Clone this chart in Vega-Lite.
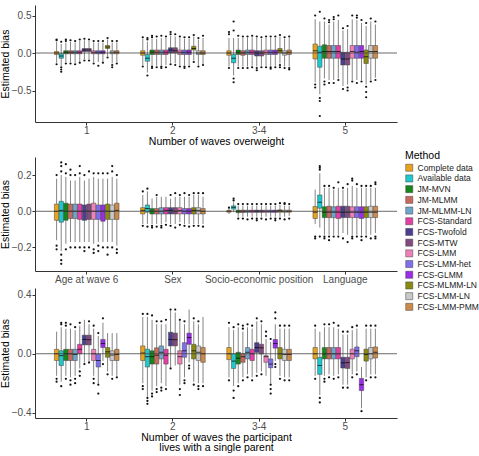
{
"$schema":"https://vega.github.io/schema/vega-lite/v6.json",
"padding":{"left":0,"top":5,"right":0,"bottom":0},
"config":{"font":"Liberation Sans","view":{"stroke":null},
"axis":{"grid":false,"domainColor":"#333","tickColor":"#333","labelColor":"#4d4d4d","labelFontSize":10,"titleFontSize":10.5,"titleFontWeight":"normal","titleColor":"#000","tickSize":3,"labelPadding":1}},
"bounds":"flush",
"spacing":35,
"resolve":{"scale":{"color":"shared"}},
"datasets":{
"p1":[
{"g":"1","m":"Complete data","lo":-0.13,"q1":-0.02,"md":0,"q3":0.02,"hi":0.15,"o":[0.17,0.18,-0.15]},
{"g":"1","m":"Available data","lo":-0.17,"q1":-0.07,"md":-0.04,"q3":-0.01,"hi":0.12,"o":[0.15,-0.19,-0.22,-0.25]},
{"g":"1","m":"JM-MVN","lo":-0.12,"q1":-0.01,"md":0.01,"q3":0.03,"hi":0.14,"o":[0.16,0.18,-0.14]},
{"g":"1","m":"JM-MLMM","lo":-0.12,"q1":-0.01,"md":0.01,"q3":0.03,"hi":0.15,"o":[0.17,-0.14]},
{"g":"1","m":"JM-MLMM-LN","lo":-0.13,"q1":-0.01,"md":0.01,"q3":0.03,"hi":0.14,"o":[0.16,-0.15]},
{"g":"1","m":"FCS-Standard","lo":-0.12,"q1":-0.01,"md":0.01,"q3":0.03,"hi":0.16,"o":[0.18,-0.13]},
{"g":"1","m":"FCS-Twofold","lo":-0.08,"q1":0.02,"md":0.04,"q3":0.06,"hi":0.17,"o":[0.19,-0.1]},
{"g":"1","m":"FCS-MTW","lo":-0.08,"q1":0.02,"md":0.04,"q3":0.06,"hi":0.16,"o":[0.18,-0.1]},
{"g":"1","m":"FCS-LMM","lo":-0.12,"q1":-0.01,"md":0.01,"q3":0.03,"hi":0.14,"o":[0.16,-0.14]},
{"g":"1","m":"FCS-LMM-het","lo":-0.12,"q1":-0.01,"md":0.01,"q3":0.03,"hi":0.14,"o":[0.16,-0.17]},
{"g":"1","m":"FCS-GLMM","lo":-0.12,"q1":-0.01,"md":0.01,"q3":0.03,"hi":0.14,"o":[0.16,-0.13]},
{"g":"1","m":"FCS-MLMM-LN","lo":-0.04,"q1":0.06,"md":0.08,"q3":0.1,"hi":0.18,"o":[0.2,-0.06]},
{"g":"1","m":"FCS-LMM-LN","lo":-0.14,"q1":-0.01,"md":0.01,"q3":0.03,"hi":0.14,"o":[0.16,-0.16,-0.19]},
{"g":"1","m":"FCS-LMM-PMM","lo":-0.12,"q1":-0.01,"md":0.01,"q3":0.03,"hi":0.14,"o":[0.16,-0.14]},
{"g":"2","m":"Complete data","lo":-0.16,"q1":-0.03,"md":0,"q3":0.03,"hi":0.19,"o":[0.21,-0.18]},
{"g":"2","m":"Available data","lo":-0.26,"q1":-0.11,"md":-0.07,"q3":-0.02,"hi":0.15,"o":[0.18,0.2,-0.3]},
{"g":"2","m":"JM-MVN","lo":-0.16,"q1":-0.02,"md":0.01,"q3":0.04,"hi":0.19,"o":[0.21,0.23,-0.18,-0.2]},
{"g":"2","m":"JM-MLMM","lo":-0.17,"q1":-0.02,"md":0.01,"q3":0.04,"hi":0.19,"o":[0.22,-0.19]},
{"g":"2","m":"JM-MLMM-LN","lo":-0.16,"q1":-0.02,"md":0.01,"q3":0.04,"hi":0.2,"o":[0.23,-0.18,-0.2]},
{"g":"2","m":"FCS-Standard","lo":-0.16,"q1":-0.02,"md":0.01,"q3":0.04,"hi":0.2,"o":[0.22,-0.19]},
{"g":"2","m":"FCS-Twofold","lo":-0.13,"q1":0,"md":0.04,"q3":0.07,"hi":0.23,"o":[0.25,0.28,-0.15]},
{"g":"2","m":"FCS-MTW","lo":-0.14,"q1":0,"md":0.03,"q3":0.07,"hi":0.22,"o":[0.25,-0.16]},
{"g":"2","m":"FCS-LMM","lo":-0.16,"q1":-0.02,"md":0.01,"q3":0.04,"hi":0.2,"o":[0.22,-0.18]},
{"g":"2","m":"FCS-LMM-het","lo":-0.16,"q1":-0.02,"md":0.01,"q3":0.04,"hi":0.19,"o":[0.21,-0.18,-0.2]},
{"g":"2","m":"FCS-GLMM","lo":-0.16,"q1":-0.02,"md":0.01,"q3":0.04,"hi":0.19,"o":[0.21,-0.18]},
{"g":"2","m":"FCS-MLMM-LN","lo":-0.1,"q1":0.04,"md":0.06,"q3":0.09,"hi":0.22,"o":[0.24,-0.12]},
{"g":"2","m":"FCS-LMM-LN","lo":-0.16,"q1":-0.02,"md":0,"q3":0.03,"hi":0.18,"o":[0.2,-0.18]},
{"g":"2","m":"FCS-LMM-PMM","lo":-0.15,"q1":-0.02,"md":0,"q3":0.03,"hi":0.2,"o":[0.23,-0.16]},
{"g":"3-4","m":"Complete data","lo":-0.18,"q1":-0.03,"md":0,"q3":0.03,"hi":0.2,"o":[0.25,0.28,-0.2]},
{"g":"3-4","m":"Available data","lo":-0.3,"q1":-0.13,"md":-0.07,"q3":-0.02,"hi":0.2,"o":[0.3,0.42,-0.34,-0.39]},
{"g":"3-4","m":"JM-MVN","lo":-0.18,"q1":-0.02,"md":0.01,"q3":0.04,"hi":0.2,"o":[0.23,-0.2]},
{"g":"3-4","m":"JM-MLMM","lo":-0.18,"q1":-0.03,"md":0,"q3":0.03,"hi":0.2,"o":[0.22,-0.2]},
{"g":"3-4","m":"JM-MLMM-LN","lo":-0.18,"q1":-0.02,"md":0.01,"q3":0.04,"hi":0.2,"o":[0.22,-0.2]},
{"g":"3-4","m":"FCS-Standard","lo":-0.17,"q1":-0.02,"md":0.01,"q3":0.04,"hi":0.21,"o":[0.23,-0.19]},
{"g":"3-4","m":"FCS-Twofold","lo":-0.18,"q1":-0.04,"md":0,"q3":0.03,"hi":0.2,"o":[0.22,-0.2,-0.23]},
{"g":"3-4","m":"FCS-MTW","lo":-0.17,"q1":-0.04,"md":0,"q3":0.03,"hi":0.19,"o":[0.21,-0.19]},
{"g":"3-4","m":"FCS-LMM","lo":-0.17,"q1":-0.02,"md":0.01,"q3":0.04,"hi":0.2,"o":[0.22,-0.19]},
{"g":"3-4","m":"FCS-LMM-het","lo":-0.17,"q1":-0.02,"md":0.01,"q3":0.04,"hi":0.2,"o":[0.22,-0.19,-0.21]},
{"g":"3-4","m":"FCS-GLMM","lo":-0.17,"q1":-0.02,"md":0.01,"q3":0.04,"hi":0.2,"o":[0.22,-0.19]},
{"g":"3-4","m":"FCS-MLMM-LN","lo":-0.14,"q1":0,"md":0.03,"q3":0.06,"hi":0.22,"o":[0.24,-0.16,-0.19]},
{"g":"3-4","m":"FCS-LMM-LN","lo":-0.18,"q1":-0.03,"md":0,"q3":0.03,"hi":0.19,"o":[0.21,-0.2]},
{"g":"3-4","m":"FCS-LMM-PMM","lo":-0.18,"q1":-0.02,"md":0.01,"q3":0.04,"hi":0.2,"o":[0.22,-0.2,-0.22]},
{"g":"5","m":"Complete data","lo":-0.39,"q1":-0.08,"md":0.03,"q3":0.12,"hi":0.45,"o":[0.5,-0.42,-0.46]},
{"g":"5","m":"Available data","lo":-0.55,"q1":-0.19,"md":0.01,"q3":0.09,"hi":0.42,"o":[0.55,-0.6,-0.64,-0.84]},
{"g":"5","m":"JM-MVN","lo":-0.34,"q1":-0.07,"md":0.02,"q3":0.11,"hi":0.42,"o":[0.46,-0.38,-0.42]},
{"g":"5","m":"JM-MLMM","lo":-0.36,"q1":-0.07,"md":0.02,"q3":0.1,"hi":0.38,"o":[0.41,0.44,-0.4]},
{"g":"5","m":"JM-MLMM-LN","lo":-0.36,"q1":-0.07,"md":0.02,"q3":0.1,"hi":0.42,"o":[0.45,0.48,-0.4]},
{"g":"5","m":"FCS-Standard","lo":-0.34,"q1":-0.07,"md":0.02,"q3":0.1,"hi":0.44,"o":[0.5,-0.36]},
{"g":"5","m":"FCS-Twofold","lo":-0.44,"q1":-0.16,"md":-0.08,"q3":0.01,"hi":0.3,"o":[0.33,-0.48]},
{"g":"5","m":"FCS-MTW","lo":-0.42,"q1":-0.16,"md":-0.08,"q3":0.01,"hi":0.32,"o":[0.36,-0.46,-0.5]},
{"g":"5","m":"FCS-LMM","lo":-0.36,"q1":-0.07,"md":0.02,"q3":0.1,"hi":0.45,"o":[0.5,-0.38]},
{"g":"5","m":"FCS-LMM-het","lo":-0.36,"q1":-0.07,"md":0.01,"q3":0.1,"hi":0.44,"o":[0.47,0.5,-0.4]},
{"g":"5","m":"FCS-GLMM","lo":-0.36,"q1":-0.07,"md":0.02,"q3":0.1,"hi":0.4,"o":[0.44,-0.38]},
{"g":"5","m":"FCS-MLMM-LN","lo":-0.42,"q1":-0.14,"md":-0.05,"q3":0.04,"hi":0.36,"o":[0.4,-0.45,-0.52,-0.59]},
{"g":"5","m":"FCS-LMM-LN","lo":-0.36,"q1":-0.07,"md":0.02,"q3":0.1,"hi":0.42,"o":[0.46,-0.38]},
{"g":"5","m":"FCS-LMM-PMM","lo":-0.33,"q1":-0.07,"md":0.02,"q3":0.1,"hi":0.38,"o":[0.42,-0.36]}
],
"p2":[
{"g":"Age at wave 6","m":"Complete data","lo":-0.16,"q1":-0.05,"md":0,"q3":0.04,"hi":0.18,"o":[0.2,-0.19,-0.21]},
{"g":"Age at wave 6","m":"Available data","lo":-0.22,"q1":-0.06,"md":0.005,"q3":0.055,"hi":0.2,"o":[0.22,0.25,0.27,-0.24,-0.27,-0.29]},
{"g":"Age at wave 6","m":"JM-MVN","lo":-0.18,"q1":-0.05,"md":0,"q3":0.045,"hi":0.19,"o":[0.21,0.26,-0.21]},
{"g":"Age at wave 6","m":"JM-MLMM","lo":-0.17,"q1":-0.04,"md":0,"q3":0.04,"hi":0.17,"o":[0.2,0.23,-0.2]},
{"g":"Age at wave 6","m":"JM-MLMM-LN","lo":-0.17,"q1":-0.04,"md":0,"q3":0.04,"hi":0.17,"o":[0.2,-0.2]},
{"g":"Age at wave 6","m":"FCS-Standard","lo":-0.17,"q1":-0.045,"md":0,"q3":0.04,"hi":0.19,"o":[0.21,0.25,-0.2]},
{"g":"Age at wave 6","m":"FCS-Twofold","lo":-0.17,"q1":-0.05,"md":0,"q3":0.035,"hi":0.17,"o":[0.2,-0.2,-0.22]},
{"g":"Age at wave 6","m":"FCS-MTW","lo":-0.17,"q1":-0.045,"md":0,"q3":0.04,"hi":0.18,"o":[0.22,-0.2]},
{"g":"Age at wave 6","m":"FCS-LMM","lo":-0.18,"q1":-0.045,"md":0,"q3":0.045,"hi":0.19,"o":[0.21,-0.21,-0.23]},
{"g":"Age at wave 6","m":"FCS-LMM-het","lo":-0.17,"q1":-0.045,"md":0,"q3":0.035,"hi":0.18,"o":[0.21,-0.19,-0.22]},
{"g":"Age at wave 6","m":"FCS-GLMM","lo":-0.17,"q1":-0.055,"md":0,"q3":0.035,"hi":0.18,"o":[0.21,-0.2]},
{"g":"Age at wave 6","m":"FCS-MLMM-LN","lo":-0.17,"q1":-0.045,"md":0,"q3":0.04,"hi":0.18,"o":[0.21,-0.2,-0.24]},
{"g":"Age at wave 6","m":"FCS-LMM-LN","lo":-0.17,"q1":-0.045,"md":0,"q3":0.035,"hi":0.19,"o":[0.22,0.25,-0.2]},
{"g":"Age at wave 6","m":"FCS-LMM-PMM","lo":-0.19,"q1":-0.045,"md":0.005,"q3":0.045,"hi":0.18,"o":[0.2,-0.21,-0.23]},
{"g":"Sex","m":"Complete data","lo":-0.07,"q1":-0.015,"md":0.005,"q3":0.02,"hi":0.09,"o":[0.11,-0.08]},
{"g":"Sex","m":"Available data","lo":-0.07,"q1":-0.005,"md":0.015,"q3":0.035,"hi":0.11,"o":[0.125,-0.085]},
{"g":"Sex","m":"JM-MVN","lo":-0.07,"q1":-0.015,"md":0,"q3":0.015,"hi":0.07,"o":[-0.08,-0.09]},
{"g":"Sex","m":"JM-MLMM","lo":-0.07,"q1":-0.015,"md":0,"q3":0.015,"hi":0.08,"o":[0.09,-0.085]},
{"g":"Sex","m":"JM-MLMM-LN","lo":-0.07,"q1":-0.015,"md":0,"q3":0.02,"hi":0.08,"o":[-0.08,-0.09]},
{"g":"Sex","m":"FCS-Standard","lo":-0.06,"q1":-0.015,"md":0.005,"q3":0.02,"hi":0.08,"o":[-0.075]},
{"g":"Sex","m":"FCS-Twofold","lo":-0.07,"q1":-0.015,"md":0.005,"q3":0.02,"hi":0.07,"o":[0.09,-0.08]},
{"g":"Sex","m":"FCS-MTW","lo":-0.07,"q1":-0.015,"md":0,"q3":0.02,"hi":0.08,"o":[0.1,-0.09]},
{"g":"Sex","m":"FCS-LMM","lo":-0.06,"q1":-0.015,"md":0.005,"q3":0.02,"hi":0.08,"o":[0.09,-0.075]},
{"g":"Sex","m":"FCS-LMM-het","lo":-0.07,"q1":-0.015,"md":0,"q3":0.015,"hi":0.08,"o":[0.1,-0.08]},
{"g":"Sex","m":"FCS-GLMM","lo":-0.07,"q1":-0.015,"md":0,"q3":0.015,"hi":0.08,"o":[0.09,-0.085]},
{"g":"Sex","m":"FCS-MLMM-LN","lo":-0.07,"q1":-0.015,"md":0.005,"q3":0.02,"hi":0.09,"o":[0.1,-0.08]},
{"g":"Sex","m":"FCS-LMM-LN","lo":-0.07,"q1":-0.015,"md":0.005,"q3":0.02,"hi":0.09,"o":[0.1,-0.08]},
{"g":"Sex","m":"FCS-LMM-PMM","lo":-0.07,"q1":-0.015,"md":0,"q3":0.015,"hi":0.08,"o":[0.1,-0.085]},
{"g":"Socio-economic position","m":"Complete data","lo":-0.015,"q1":-0.005,"md":0,"q3":0.005,"hi":0.015,"o":[0.02]},
{"g":"Socio-economic position","m":"Available data","lo":-0.005,"q1":0.012,"md":0.022,"q3":0.03,"hi":0.05,"o":[0.06,0.07]},
{"g":"Socio-economic position","m":"JM-MVN","lo":-0.03,"q1":-0.008,"md":0,"q3":0.006,"hi":0.03,"o":[0.04,-0.04]},
{"g":"Socio-economic position","m":"JM-MLMM","lo":-0.03,"q1":-0.007,"md":0,"q3":0.006,"hi":0.03,"o":[0.04,-0.04]},
{"g":"Socio-economic position","m":"JM-MLMM-LN","lo":-0.03,"q1":-0.006,"md":0,"q3":0.006,"hi":0.03,"o":[0.04,-0.045]},
{"g":"Socio-economic position","m":"FCS-Standard","lo":-0.03,"q1":-0.006,"md":0,"q3":0.006,"hi":0.03,"o":[0.04,-0.04]},
{"g":"Socio-economic position","m":"FCS-Twofold","lo":-0.03,"q1":-0.006,"md":0,"q3":0.006,"hi":0.03,"o":[0.04,-0.04,-0.05]},
{"g":"Socio-economic position","m":"FCS-MTW","lo":-0.03,"q1":-0.006,"md":0,"q3":0.006,"hi":0.03,"o":[0.04,-0.04]},
{"g":"Socio-economic position","m":"FCS-LMM","lo":-0.03,"q1":-0.006,"md":0,"q3":0.006,"hi":0.03,"o":[0.04,-0.045]},
{"g":"Socio-economic position","m":"FCS-LMM-het","lo":-0.03,"q1":-0.006,"md":0,"q3":0.006,"hi":0.03,"o":[0.04,-0.04]},
{"g":"Socio-economic position","m":"FCS-GLMM","lo":-0.03,"q1":-0.006,"md":0,"q3":0.006,"hi":0.03,"o":[0.04,-0.04,-0.05]},
{"g":"Socio-economic position","m":"FCS-MLMM-LN","lo":-0.03,"q1":-0.005,"md":0.002,"q3":0.008,"hi":0.035,"o":[0.045,-0.04]},
{"g":"Socio-economic position","m":"FCS-LMM-LN","lo":-0.03,"q1":-0.006,"md":0,"q3":0.006,"hi":0.03,"o":[0.04,0.045,-0.045]},
{"g":"Socio-economic position","m":"FCS-LMM-PMM","lo":-0.025,"q1":-0.005,"md":0,"q3":0.006,"hi":0.03,"o":[0.04,-0.04]},
{"g":"Language","m":"Complete data","lo":-0.07,"q1":-0.04,"md":-0.005,"q3":0.026,"hi":0.12,"o":[-0.14,-0.15]},
{"g":"Language","m":"Available data","lo":-0.09,"q1":0.017,"md":0.05,"q3":0.09,"hi":0.21,"o":[0.23,0.24,0.25,-0.14]},
{"g":"Language","m":"JM-MVN","lo":-0.13,"q1":-0.035,"md":-0.005,"q3":0.025,"hi":0.13,"o":[0.14,-0.14,-0.15]},
{"g":"Language","m":"JM-MLMM","lo":-0.13,"q1":-0.035,"md":-0.005,"q3":0.028,"hi":0.13,"o":[0.14,-0.14,-0.16]},
{"g":"Language","m":"JM-MLMM-LN","lo":-0.13,"q1":-0.035,"md":-0.005,"q3":0.025,"hi":0.12,"o":[0.13,-0.14]},
{"g":"Language","m":"FCS-Standard","lo":-0.13,"q1":-0.04,"md":-0.005,"q3":0.028,"hi":0.13,"o":[0.16,-0.14]},
{"g":"Language","m":"FCS-Twofold","lo":-0.12,"q1":-0.035,"md":-0.005,"q3":0.028,"hi":0.12,"o":[0.13,-0.15]},
{"g":"Language","m":"FCS-MTW","lo":-0.13,"q1":-0.035,"md":-0.005,"q3":0.028,"hi":0.13,"o":[0.15,-0.17]},
{"g":"Language","m":"FCS-LMM","lo":-0.13,"q1":-0.035,"md":-0.005,"q3":0.025,"hi":0.14,"o":[0.17,0.18,-0.14,-0.15]},
{"g":"Language","m":"FCS-LMM-het","lo":-0.13,"q1":-0.035,"md":-0.005,"q3":0.025,"hi":0.13,"o":[0.15,-0.14]},
{"g":"Language","m":"FCS-GLMM","lo":-0.13,"q1":-0.04,"md":-0.005,"q3":0.025,"hi":0.13,"o":[0.14,-0.14,-0.16]},
{"g":"Language","m":"FCS-MLMM-LN","lo":-0.13,"q1":-0.035,"md":-0.005,"q3":0.025,"hi":0.13,"o":[0.14,-0.14]},
{"g":"Language","m":"FCS-LMM-LN","lo":-0.13,"q1":-0.035,"md":-0.005,"q3":0.028,"hi":0.13,"o":[0.14,-0.15]},
{"g":"Language","m":"FCS-LMM-PMM","lo":-0.12,"q1":-0.035,"md":-0.005,"q3":0.028,"hi":0.13,"o":[0.15,0.16,-0.14,-0.15]}
],
"p3":[
{"g":"1","m":"Complete data","lo":-0.15,"q1":-0.046,"md":0,"q3":0.03,"hi":0.15,"o":[-0.17,-0.19]},
{"g":"1","m":"Available data","lo":-0.19,"q1":-0.08,"md":-0.013,"q3":0.02,"hi":0.18,"o":[0.2,0.21,-0.22]},
{"g":"1","m":"JM-MVN","lo":-0.15,"q1":-0.046,"md":0,"q3":0.03,"hi":0.17,"o":[0.19,0.21,-0.17]},
{"g":"1","m":"JM-MLMM","lo":-0.16,"q1":-0.046,"md":0,"q3":0.03,"hi":0.17,"o":[0.2,-0.18,-0.21]},
{"g":"1","m":"JM-MLMM-LN","lo":-0.15,"q1":-0.046,"md":-0.005,"q3":0.03,"hi":0.16,"o":[0.18,-0.17,-0.2]},
{"g":"1","m":"FCS-Standard","lo":-0.1,"q1":0,"md":0.03,"q3":0.064,"hi":0.19,"o":[0.21,-0.12,-0.15]},
{"g":"1","m":"FCS-Twofold","lo":-0.06,"q1":0.06,"md":0.097,"q3":0.126,"hi":0.23,"o":[-0.07]},
{"g":"1","m":"FCS-MTW","lo":-0.06,"q1":0.06,"md":0.095,"q3":0.126,"hi":0.2,"o":[0.22,-0.06]},
{"g":"1","m":"FCS-LMM","lo":-0.15,"q1":-0.046,"md":0,"q3":0.03,"hi":0.17,"o":[0.19,-0.17,-0.2]},
{"g":"1","m":"FCS-LMM-het","lo":-0.2,"q1":-0.09,"md":-0.046,"q3":-0.002,"hi":0.12,"o":[0.14,-0.21,-0.27]},
{"g":"1","m":"FCS-GLMM","lo":-0.05,"q1":0.042,"md":0.069,"q3":0.097,"hi":0.21,"o":[0.24,-0.07]},
{"g":"1","m":"FCS-MLMM-LN","lo":-0.12,"q1":-0.024,"md":0.013,"q3":0.042,"hi":0.14,"o":[-0.14]},
{"g":"1","m":"FCS-LMM-LN","lo":-0.15,"q1":-0.046,"md":-0.009,"q3":0.02,"hi":0.14,"o":[-0.17]},
{"g":"1","m":"FCS-LMM-PMM","lo":-0.15,"q1":-0.046,"md":-0.005,"q3":0.03,"hi":0.14,"o":[-0.16]},
{"g":"2","m":"Complete data","lo":-0.2,"q1":-0.046,"md":0.005,"q3":0.053,"hi":0.25,"o":[0.27,-0.22,-0.24]},
{"g":"2","m":"Available data","lo":-0.29,"q1":-0.09,"md":-0.02,"q3":0.031,"hi":0.25,"o":[0.27,-0.3,-0.32,-0.34]},
{"g":"2","m":"JM-MVN","lo":-0.25,"q1":-0.07,"md":-0.02,"q3":0.02,"hi":0.23,"o":[0.26,-0.27,-0.29]},
{"g":"2","m":"JM-MLMM","lo":-0.22,"q1":-0.07,"md":-0.01,"q3":0.04,"hi":0.2,"o":[0.22,-0.24,-0.26]},
{"g":"2","m":"JM-MLMM-LN","lo":-0.2,"q1":-0.035,"md":0.01,"q3":0.053,"hi":0.2,"o":[0.22,-0.23,-0.25]},
{"g":"2","m":"FCS-Standard","lo":-0.22,"q1":-0.07,"md":-0.01,"q3":0.03,"hi":0.2,"o":[0.23,-0.24]},
{"g":"2","m":"FCS-Twofold","lo":-0.09,"q1":0.053,"md":0.097,"q3":0.146,"hi":0.29,"o":[0.3,-0.1]},
{"g":"2","m":"FCS-MTW","lo":-0.08,"q1":0.053,"md":0.095,"q3":0.14,"hi":0.28,"o":[0.3]},
{"g":"2","m":"FCS-LMM","lo":-0.21,"q1":-0.07,"md":-0.02,"q3":0.02,"hi":0.22,"o":[0.23,-0.24,-0.28]},
{"g":"2","m":"FCS-LMM-het","lo":-0.16,"q1":-0.024,"md":0.02,"q3":0.075,"hi":0.2,"o":[0.22,-0.18,-0.2]},
{"g":"2","m":"FCS-GLMM","lo":-0.06,"q1":0.064,"md":0.11,"q3":0.14,"hi":0.3,"o":[-0.08,-0.1]},
{"g":"2","m":"FCS-MLMM-LN","lo":-0.19,"q1":-0.035,"md":0.02,"q3":0.064,"hi":0.22,"o":[0.24,-0.21]},
{"g":"2","m":"FCS-LMM-LN","lo":-0.2,"q1":-0.046,"md":0.01,"q3":0.053,"hi":0.2,"o":[0.22,-0.22,-0.24]},
{"g":"2","m":"FCS-LMM-PMM","lo":-0.2,"q1":-0.058,"md":0,"q3":0.042,"hi":0.25,"o":[-0.22]},
{"g":"3-4","m":"Complete data","lo":-0.16,"q1":-0.04,"md":0,"q3":0.042,"hi":0.18,"o":[0.21,-0.18]},
{"g":"3-4","m":"Available data","lo":-0.22,"q1":-0.1,"md":-0.05,"q3":0,"hi":0.16,"o":[0.18,-0.25,-0.3]},
{"g":"3-4","m":"JM-MVN","lo":-0.2,"q1":-0.07,"md":-0.03,"q3":0.01,"hi":0.18,"o":[0.2,-0.22]},
{"g":"3-4","m":"JM-MLMM","lo":-0.16,"q1":-0.058,"md":-0.02,"q3":0,"hi":0.15,"o":[0.17,0.19,-0.18]},
{"g":"3-4","m":"JM-MLMM-LN","lo":-0.14,"q1":-0.035,"md":0.01,"q3":0.042,"hi":0.18,"o":[0.2,-0.16]},
{"g":"3-4","m":"FCS-Standard","lo":-0.16,"q1":-0.046,"md":0,"q3":0.03,"hi":0.17,"o":[0.19,-0.18]},
{"g":"3-4","m":"FCS-Twofold","lo":-0.13,"q1":0.009,"md":0.042,"q3":0.075,"hi":0.22,"o":[0.24,-0.15]},
{"g":"3-4","m":"FCS-MTW","lo":-0.12,"q1":-0.002,"md":0.04,"q3":0.064,"hi":0.2,"o":[0.22,-0.14]},
{"g":"3-4","m":"FCS-LMM","lo":-0.15,"q1":-0.058,"md":-0.02,"q3":-0.013,"hi":0.1,"o":[0.12,0.15]},
{"g":"3-4","m":"FCS-LMM-het","lo":-0.2,"q1":-0.095,"md":-0.07,"q3":-0.035,"hi":0.08,"o":[0.1,-0.21,-0.24,-0.27]},
{"g":"3-4","m":"FCS-GLMM","lo":-0.05,"q1":0.038,"md":0.069,"q3":0.097,"hi":0.2,"o":[0.24,0.28,-0.07,-0.09]},
{"g":"3-4","m":"FCS-MLMM-LN","lo":-0.15,"q1":-0.035,"md":0,"q3":0.042,"hi":0.17,"o":[0.19,-0.17]},
{"g":"3-4","m":"FCS-LMM-LN","lo":-0.16,"q1":-0.046,"md":-0.005,"q3":0.03,"hi":0.17,"o":[0.19,-0.18]},
{"g":"3-4","m":"FCS-LMM-PMM","lo":-0.16,"q1":-0.046,"md":-0.005,"q3":0.03,"hi":0.17,"o":[0.19,-0.18]},
{"g":"5","m":"Complete data","lo":-0.15,"q1":-0.035,"md":0,"q3":0.042,"hi":0.17,"o":[0.19,-0.17]},
{"g":"5","m":"Available data","lo":-0.28,"q1":-0.14,"md":-0.08,"q3":-0.024,"hi":0.15,"o":[-0.3,-0.33]},
{"g":"5","m":"JM-MVN","lo":-0.15,"q1":-0.035,"md":0,"q3":0.042,"hi":0.18,"o":[0.2,-0.17,-0.19]},
{"g":"5","m":"JM-MLMM","lo":-0.14,"q1":-0.035,"md":0,"q3":0.042,"hi":0.18,"o":[0.2,-0.16]},
{"g":"5","m":"JM-MLMM-LN","lo":-0.15,"q1":-0.035,"md":0,"q3":0.042,"hi":0.18,"o":[0.21,-0.17]},
{"g":"5","m":"FCS-Standard","lo":-0.14,"q1":-0.035,"md":0,"q3":0.042,"hi":0.17,"o":[0.19,-0.16]},
{"g":"5","m":"FCS-Twofold","lo":-0.21,"q1":-0.097,"md":-0.062,"q3":-0.024,"hi":0.13,"o":[0.15,-0.23]},
{"g":"5","m":"FCS-MTW","lo":-0.21,"q1":-0.1,"md":-0.06,"q3":-0.024,"hi":0.13,"o":[0.15,-0.23]},
{"g":"5","m":"FCS-LMM","lo":-0.14,"q1":-0.035,"md":0,"q3":0.031,"hi":0.16,"o":[0.18,-0.16]},
{"g":"5","m":"FCS-LMM-het","lo":-0.12,"q1":-0.02,"md":0.02,"q3":0.046,"hi":0.17,"o":[0.19,-0.14]},
{"g":"5","m":"FCS-GLMM","lo":-0.37,"q1":-0.25,"md":-0.21,"q3":-0.168,"hi":-0.09,"o":[-0.39]},
{"g":"5","m":"FCS-MLMM-LN","lo":-0.16,"q1":-0.05,"md":-0.005,"q3":0.031,"hi":0.17,"o":[0.19,-0.18]},
{"g":"5","m":"FCS-LMM-LN","lo":-0.14,"q1":-0.035,"md":0,"q3":0.042,"hi":0.17,"o":[0.19,-0.16]},
{"g":"5","m":"FCS-LMM-PMM","lo":-0.14,"q1":-0.029,"md":0.01,"q3":0.046,"hi":0.17,"o":[0.19,-0.16]}
]
},
"vconcat":[
{"data":{"name":"p1"},"width":362,"height":117,
"layer":[
{"mark":{"type":"rule","color":"#666","strokeWidth":0.8},
"encoding":{"x":{"field":"g","type":"nominal","sort":["1","2","3-4","5"],"scale":{"paddingInner":0.25,"paddingOuter":0.225},"axis":{"title":"Number of waves overweight","labelAngle":0,"titlePadding":1,"labelPadding":0}},
"xOffset":{"field":"m","type":"nominal","sort":["Complete data","Available data","JM-MVN","JM-MLMM","JM-MLMM-LN","FCS-Standard","FCS-Twofold","FCS-MTW","FCS-LMM","FCS-LMM-het","FCS-GLMM","FCS-MLMM-LN","FCS-LMM-LN","FCS-LMM-PMM"],"scale":{"paddingInner":0.05}},
"y":{"field":"lo","type":"quantitative","title":"Estimated bias","scale":{"domain":[-0.92,0.64],"nice":false,"zero":false},"axis":{"values":[-0.5,0,0.5],"format":".1f","titlePadding":1}},"y2":{"field":"hi"}}},
{"mark":{"type":"bar","stroke":"#444","strokeWidth":0.5},
"encoding":{"x":{"field":"g","type":"nominal","sort":["1","2","3-4","5"]},
"xOffset":{"field":"m","type":"nominal","sort":["Complete data","Available data","JM-MVN","JM-MLMM","JM-MLMM-LN","FCS-Standard","FCS-Twofold","FCS-MTW","FCS-LMM","FCS-LMM-het","FCS-GLMM","FCS-MLMM-LN","FCS-LMM-LN","FCS-LMM-PMM"]},
"y":{"field":"q1","type":"quantitative","title":"Estimated bias"},"y2":{"field":"q3"},
"color":{"field":"m","type":"nominal","sort":["Complete data","Available data","JM-MVN","JM-MLMM","JM-MLMM-LN","FCS-Standard","FCS-Twofold","FCS-MTW","FCS-LMM","FCS-LMM-het","FCS-GLMM","FCS-MLMM-LN","FCS-LMM-LN","FCS-LMM-PMM"],
"scale":{"domain":["Complete data","Available data","JM-MVN","JM-MLMM","JM-MLMM-LN","FCS-Standard","FCS-Twofold","FCS-MTW","FCS-LMM","FCS-LMM-het","FCS-GLMM","FCS-MLMM-LN","FCS-LMM-LN","FCS-LMM-PMM"],"range":["#E8A21C","#1FC8CC","#16861A","#C9685C","#6FA5CB","#E43FA4","#4B3F8F","#834A7D","#EE82B8","#7F6EEB","#9B2CE8","#8A8A10","#C8C8C8","#CD8A4A"]},
"legend":{"title":"Method","orient":"none","legendX":370,"legendY":146,"symbolType":"square","symbolSize":50,"symbolStrokeColor":"#666","symbolStrokeWidth":0.5,"labelFontSize":8.5,"labelColor":"#222","labelOffset":4,"titleFontSize":10.5,"titleFontWeight":"normal","titleColor":"#000","rowPadding":0.7,"titlePadding":2}}}},
{"mark":{"type":"tick","color":"#000","thickness":1,"size":4.4},
"encoding":{"x":{"field":"g","type":"nominal","sort":["1","2","3-4","5"]},
"xOffset":{"field":"m","type":"nominal","sort":["Complete data","Available data","JM-MVN","JM-MLMM","JM-MLMM-LN","FCS-Standard","FCS-Twofold","FCS-MTW","FCS-LMM","FCS-LMM-het","FCS-GLMM","FCS-MLMM-LN","FCS-LMM-LN","FCS-LMM-PMM"]},
"y":{"field":"md","type":"quantitative","title":"Estimated bias"}}},
{"transform":[{"flatten":["o"]}],"mark":{"type":"circle","color":"#111","size":5,"opacity":1},
"encoding":{"x":{"field":"g","type":"nominal","sort":["1","2","3-4","5"]},
"xOffset":{"field":"m","type":"nominal","sort":["Complete data","Available data","JM-MVN","JM-MLMM","JM-MLMM-LN","FCS-Standard","FCS-Twofold","FCS-MTW","FCS-LMM","FCS-LMM-het","FCS-GLMM","FCS-MLMM-LN","FCS-LMM-LN","FCS-LMM-PMM"]},
"y":{"field":"o","type":"quantitative","title":"Estimated bias"}}},
{"data":{"values":[{}]},"mark":{"type":"rule","color":"#444","strokeWidth":0.8},"encoding":{"y":{"datum":0,"type":"quantitative","title":"Estimated bias"}}}
]},
{"bounds":"flush","spacing":17,"vconcat":[
{"data":{"name":"p2"},"width":362,"height":114,
"layer":[
{"mark":{"type":"rule","color":"#666","strokeWidth":0.8},
"encoding":{"x":{"field":"g","type":"nominal","sort":["Age at wave 6","Sex","Socio-economic position","Language"],"scale":{"paddingInner":0.25,"paddingOuter":0.225},"axis":{"title":null,"labelAngle":0,"labelPadding":0}},
"xOffset":{"field":"m","type":"nominal","sort":["Complete data","Available data","JM-MVN","JM-MLMM","JM-MLMM-LN","FCS-Standard","FCS-Twofold","FCS-MTW","FCS-LMM","FCS-LMM-het","FCS-GLMM","FCS-MLMM-LN","FCS-LMM-LN","FCS-LMM-PMM"],"scale":{"paddingInner":0.05}},
"y":{"field":"lo","type":"quantitative","title":"Estimated bias","scale":{"domain":[-0.33,0.3],"nice":false,"zero":false},"axis":{"values":[-0.2,0,0.2],"format":".1f","titlePadding":1}},"y2":{"field":"hi"}}},
{"mark":{"type":"bar","stroke":"#444","strokeWidth":0.5},
"encoding":{"x":{"field":"g","type":"nominal","sort":["Age at wave 6","Sex","Socio-economic position","Language"]},
"xOffset":{"field":"m","type":"nominal","sort":["Complete data","Available data","JM-MVN","JM-MLMM","JM-MLMM-LN","FCS-Standard","FCS-Twofold","FCS-MTW","FCS-LMM","FCS-LMM-het","FCS-GLMM","FCS-MLMM-LN","FCS-LMM-LN","FCS-LMM-PMM"]},
"y":{"field":"q1","type":"quantitative","title":"Estimated bias"},"y2":{"field":"q3"},
"color":{"field":"m","type":"nominal","sort":["Complete data","Available data","JM-MVN","JM-MLMM","JM-MLMM-LN","FCS-Standard","FCS-Twofold","FCS-MTW","FCS-LMM","FCS-LMM-het","FCS-GLMM","FCS-MLMM-LN","FCS-LMM-LN","FCS-LMM-PMM"]}}},
{"mark":{"type":"tick","color":"#000","thickness":1,"size":4.4},
"encoding":{"x":{"field":"g","type":"nominal","sort":["Age at wave 6","Sex","Socio-economic position","Language"]},
"xOffset":{"field":"m","type":"nominal","sort":["Complete data","Available data","JM-MVN","JM-MLMM","JM-MLMM-LN","FCS-Standard","FCS-Twofold","FCS-MTW","FCS-LMM","FCS-LMM-het","FCS-GLMM","FCS-MLMM-LN","FCS-LMM-LN","FCS-LMM-PMM"]},
"y":{"field":"md","type":"quantitative","title":"Estimated bias"}}},
{"transform":[{"flatten":["o"]}],"mark":{"type":"circle","color":"#111","size":5,"opacity":1},
"encoding":{"x":{"field":"g","type":"nominal","sort":["Age at wave 6","Sex","Socio-economic position","Language"]},
"xOffset":{"field":"m","type":"nominal","sort":["Complete data","Available data","JM-MVN","JM-MLMM","JM-MLMM-LN","FCS-Standard","FCS-Twofold","FCS-MTW","FCS-LMM","FCS-LMM-het","FCS-GLMM","FCS-MLMM-LN","FCS-LMM-LN","FCS-LMM-PMM"]},
"y":{"field":"o","type":"quantitative","title":"Estimated bias"}}},
{"data":{"values":[{}]},"mark":{"type":"rule","color":"#444","strokeWidth":0.8},"encoding":{"y":{"datum":0,"type":"quantitative","title":"Estimated bias"}}}
]},
{"data":{"name":"p3"},"width":362,"height":130,
"layer":[
{"mark":{"type":"rule","color":"#666","strokeWidth":0.8},
"encoding":{"x":{"field":"g","type":"nominal","sort":["1","2","3-4","5"],"scale":{"paddingInner":0.25,"paddingOuter":0.225},"axis":{"title":["Number of waves the participant","lives with a single parent"],"labelAngle":0,"titlePadding":1,"titleLineHeight":10.5,"labelPadding":0}},
"xOffset":{"field":"m","type":"nominal","sort":["Complete data","Available data","JM-MVN","JM-MLMM","JM-MLMM-LN","FCS-Standard","FCS-Twofold","FCS-MTW","FCS-LMM","FCS-LMM-het","FCS-GLMM","FCS-MLMM-LN","FCS-LMM-LN","FCS-LMM-PMM"],"scale":{"paddingInner":0.05}},
"y":{"field":"lo","type":"quantitative","title":"Estimated bias","scale":{"domain":[-0.436,0.446],"nice":false,"zero":false},"axis":{"values":[-0.4,-0.2,0,0.2,0.4],"format":".1f","titlePadding":1}},"y2":{"field":"hi"}}},
{"mark":{"type":"bar","stroke":"#444","strokeWidth":0.5},
"encoding":{"x":{"field":"g","type":"nominal","sort":["1","2","3-4","5"]},
"xOffset":{"field":"m","type":"nominal","sort":["Complete data","Available data","JM-MVN","JM-MLMM","JM-MLMM-LN","FCS-Standard","FCS-Twofold","FCS-MTW","FCS-LMM","FCS-LMM-het","FCS-GLMM","FCS-MLMM-LN","FCS-LMM-LN","FCS-LMM-PMM"]},
"y":{"field":"q1","type":"quantitative","title":"Estimated bias"},"y2":{"field":"q3"},
"color":{"field":"m","type":"nominal","sort":["Complete data","Available data","JM-MVN","JM-MLMM","JM-MLMM-LN","FCS-Standard","FCS-Twofold","FCS-MTW","FCS-LMM","FCS-LMM-het","FCS-GLMM","FCS-MLMM-LN","FCS-LMM-LN","FCS-LMM-PMM"]}}},
{"mark":{"type":"tick","color":"#000","thickness":1,"size":4.4},
"encoding":{"x":{"field":"g","type":"nominal","sort":["1","2","3-4","5"]},
"xOffset":{"field":"m","type":"nominal","sort":["Complete data","Available data","JM-MVN","JM-MLMM","JM-MLMM-LN","FCS-Standard","FCS-Twofold","FCS-MTW","FCS-LMM","FCS-LMM-het","FCS-GLMM","FCS-MLMM-LN","FCS-LMM-LN","FCS-LMM-PMM"]},
"y":{"field":"md","type":"quantitative","title":"Estimated bias"}}},
{"transform":[{"flatten":["o"]}],"mark":{"type":"circle","color":"#111","size":5,"opacity":1},
"encoding":{"x":{"field":"g","type":"nominal","sort":["1","2","3-4","5"]},
"xOffset":{"field":"m","type":"nominal","sort":["Complete data","Available data","JM-MVN","JM-MLMM","JM-MLMM-LN","FCS-Standard","FCS-Twofold","FCS-MTW","FCS-LMM","FCS-LMM-het","FCS-GLMM","FCS-MLMM-LN","FCS-LMM-LN","FCS-LMM-PMM"]},
"y":{"field":"o","type":"quantitative","title":"Estimated bias"}}},
{"data":{"values":[{}]},"mark":{"type":"rule","color":"#444","strokeWidth":0.8},"encoding":{"y":{"datum":0,"type":"quantitative","title":"Estimated bias"}}}
]}
]}
]
}
